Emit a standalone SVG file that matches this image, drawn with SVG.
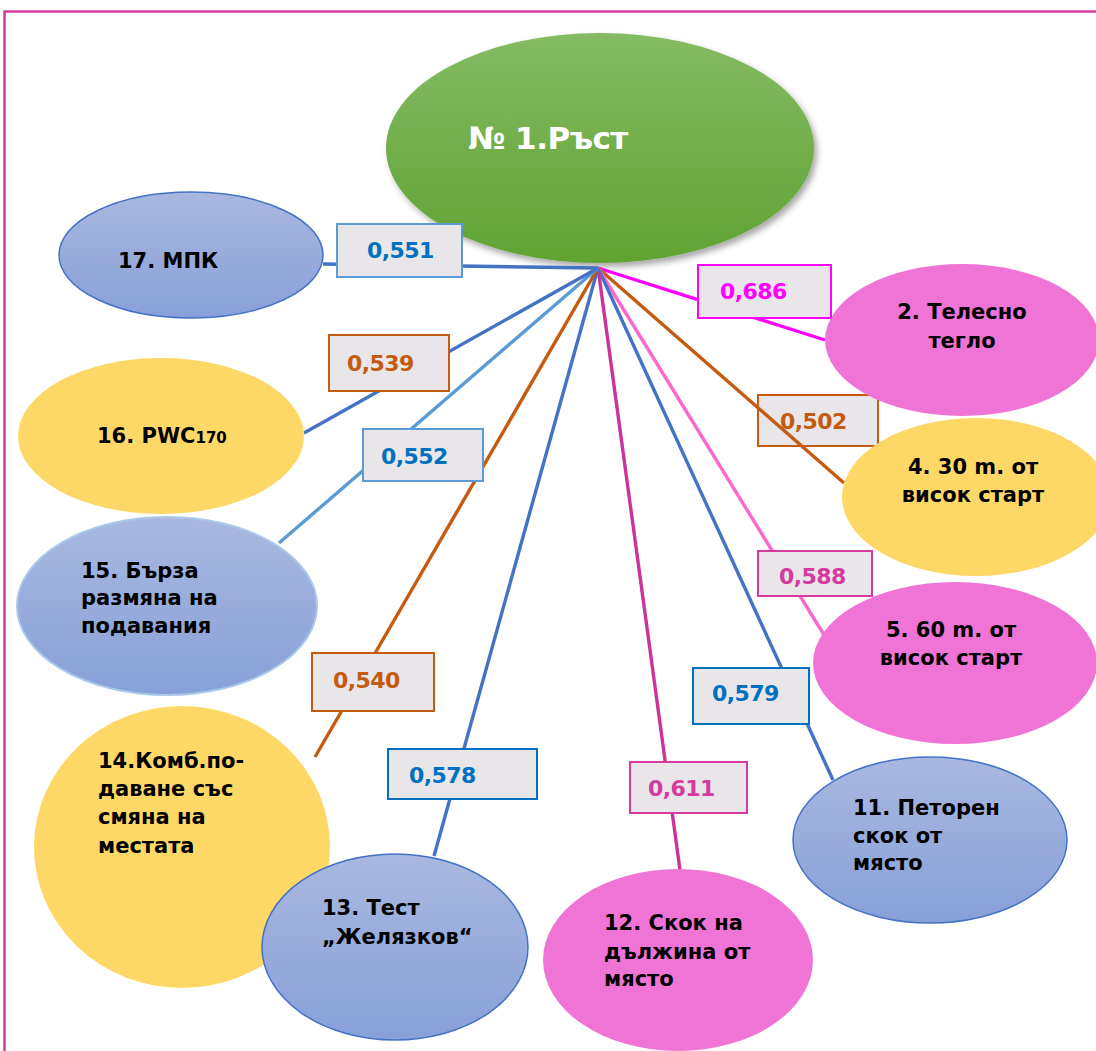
<svg xmlns="http://www.w3.org/2000/svg" width="1096" height="1051" viewBox="0 0 1096 1051">
  <defs>
    <linearGradient id="gBlue" x1="0" y1="0" x2="0" y2="1">
      <stop offset="0" stop-color="#a9b8e0"/>
      <stop offset="1" stop-color="#87a0d8"/>
    </linearGradient>
    <linearGradient id="gGreen" x1="0" y1="0" x2="0" y2="1">
      <stop offset="0" stop-color="#84bb64"/>
      <stop offset="1" stop-color="#60a333"/>
    </linearGradient>
    <filter id="shadow" x="-10%" y="-10%" width="125%" height="130%">
      <feDropShadow dx="3" dy="4" stdDeviation="3" flood-color="#000" flood-opacity="0.35"/>
    </filter>
    <style>
      text { font-family: "DejaVu Sans", "Liberation Sans", sans-serif; font-weight: bold; }
      .lbl { font-size: 21px; fill: #000; }
      .mid { text-anchor: middle; }
      .blue { fill: url(#gBlue); stroke: #4472c4; stroke-width: 1.5; }
      .blueLight { fill: url(#gBlue); stroke: #a9c8ea; stroke-width: 2; }
      .yellow { fill: #fed866; }
      .pink { fill: #f074d6; }
      .box { fill: #e8e6e8; stroke-width: 2; }
      .val { font-size: 22px; letter-spacing: -0.6px; }
      .conn line { stroke-width: 3.4; fill: none; }
    </style>
  </defs>

  <rect width="1096" height="1051" fill="#fff"/>
  <!-- page frame -->
  <path d="M4.5 1051 V11.5 H1096" fill="none" stroke="#d63a9e" stroke-width="2.5"/>

  <!-- central node -->
  <g id="n1">
    <ellipse cx="600" cy="148" rx="214" ry="115" fill="url(#gGreen)" filter="url(#shadow)"/>
    <text x="468" y="149" font-size="31" fill="#fff" letter-spacing="-0.5">№ 1.Ръст</text>
  </g>

  <!-- value box drawn beneath its connector -->
  <g id="v4">
    <rect class="box" x="758" y="395" width="120" height="51" stroke="#c55a11"/>
    <text class="val" x="780" y="429" fill="#c55a11">0,502</text>
  </g>

  <!-- connectors -->
  <g id="connectors" class="conn">
    <line x1="598" y1="268" x2="323" y2="264" stroke="#4472c4"/>
    <line x1="598" y1="268" x2="825" y2="340" stroke="#ff00ff"/>
    <line x1="598" y1="268" x2="844" y2="483" stroke="#c55a11"/>
    <line x1="598" y1="268" x2="829" y2="643" stroke="#ff66cc"/>
    <line x1="598" y1="268" x2="833" y2="780" stroke="#4472c4"/>
    <line x1="598" y1="268" x2="680" y2="870" stroke="#cc3399"/>
    <line x1="598" y1="268" x2="434" y2="856" stroke="#4472c4"/>
    <line x1="598" y1="268" x2="315" y2="757" stroke="#c55a11"/>
    <line x1="598" y1="268" x2="279" y2="543" stroke="#5b9bd5"/>
    <line x1="598" y1="268" x2="304" y2="433" stroke="#4472c4"/>
  </g>

  <!-- value boxes -->
  <g id="v17">
    <rect class="box" x="337" y="224" width="125" height="53" stroke="#5b9bd5"/>
    <text class="val" x="367" y="258" fill="#0070c0">0,551</text>
  </g>
  <g id="v2">
    <rect class="box" x="698" y="265" width="133" height="53" stroke="#ff00ff"/>
    <text class="val" x="720" y="299" fill="#ff00ff">0,686</text>
  </g>
  <g id="v16">
    <rect class="box" x="329" y="335" width="120" height="56" stroke="#c55a11"/>
    <text class="val" x="347" y="371" fill="#c55a11">0,539</text>
  </g>
  <g id="v15">
    <rect class="box" x="363" y="429" width="120" height="52" stroke="#5b9bd5"/>
    <text class="val" x="381" y="464" fill="#0070c0">0,552</text>
  </g>
  <g id="v5">
    <rect class="box" x="758" y="551" width="114" height="45" stroke="#d63a9e"/>
    <text class="val" x="779" y="584" fill="#d63a9e">0,588</text>
  </g>
  <g id="v14">
    <rect class="box" x="312" y="653" width="122" height="58" stroke="#c55a11"/>
    <text class="val" x="333" y="688" fill="#c55a11">0,540</text>
  </g>
  <g id="v11">
    <rect class="box" x="693" y="668" width="116" height="56" stroke="#0070c0"/>
    <text class="val" x="712" y="701" fill="#0070c0">0,579</text>
  </g>
  <g id="v13">
    <rect class="box" x="388" y="749" width="149" height="50" stroke="#0070c0"/>
    <text class="val" x="409" y="783" fill="#0070c0">0,578</text>
  </g>
  <g id="v12">
    <rect class="box" x="630" y="762" width="117" height="51" stroke="#d63a9e"/>
    <text class="val" x="648" y="796" fill="#d63a9e">0,611</text>
  </g>

  <!-- outer nodes -->
  <g id="n17">
    <ellipse class="blue" cx="191" cy="255" rx="132" ry="63"/>
    <text class="lbl" x="118" y="268">17. МПК</text>
  </g>
  <g id="n2">
    <ellipse class="pink" cx="962" cy="340" rx="137" ry="76"/>
    <text class="lbl mid" x="962" y="319">2. Телесно</text>
    <text class="lbl mid" x="962" y="348">тегло</text>
  </g>
  <g id="n16">
    <ellipse class="yellow" cx="161" cy="436" rx="143" ry="78"/>
    <text class="lbl" x="97" y="443">16. PWC<tspan font-size="15">170</tspan></text>
  </g>
  <g id="n4">
    <ellipse class="yellow" cx="976" cy="497" rx="134" ry="79"/>
    <text class="lbl mid" x="973" y="474">4. 30 m. от</text>
    <text class="lbl mid" x="973" y="502">висок старт</text>
  </g>
  <g id="n15">
    <ellipse class="blueLight" cx="167" cy="606" rx="150" ry="89"/>
    <text class="lbl" x="81" y="578">15. Бърза</text>
    <text class="lbl" x="81" y="605">размяна на</text>
    <text class="lbl" x="81" y="633">подавания</text>
  </g>
  <g id="n5">
    <ellipse class="pink" cx="955" cy="663" rx="142" ry="81"/>
    <text class="lbl mid" x="951" y="637">5. 60 m. от</text>
    <text class="lbl mid" x="951" y="665">висок старт</text>
  </g>
  <g id="n14">
    <ellipse class="yellow" cx="182" cy="847" rx="148" ry="141"/>
    <text class="lbl" x="98" y="768">14.Комб.по-</text>
    <text class="lbl" x="98" y="796">даване със</text>
    <text class="lbl" x="98" y="824">смяна  на</text>
    <text class="lbl" x="98" y="853">местата</text>
  </g>
  <g id="n11">
    <ellipse class="blue" cx="930" cy="840" rx="137" ry="83"/>
    <text class="lbl" x="853" y="815">11. Петорен</text>
    <text class="lbl" x="853" y="843">скок от</text>
    <text class="lbl" x="853" y="870">място</text>
  </g>
  <g id="n13">
    <ellipse class="blue" cx="395" cy="947" rx="133" ry="93"/>
    <text class="lbl" x="322" y="915">13. Тест</text>
    <text class="lbl" x="322" y="944">„Желязков“</text>
  </g>
  <g id="n12">
    <ellipse class="pink" cx="678" cy="960" rx="135" ry="91"/>
    <text class="lbl" x="604" y="930">12. Скок на</text>
    <text class="lbl" x="604" y="959">дължина от</text>
    <text class="lbl" x="604" y="986">място</text>
  </g>
</svg>
